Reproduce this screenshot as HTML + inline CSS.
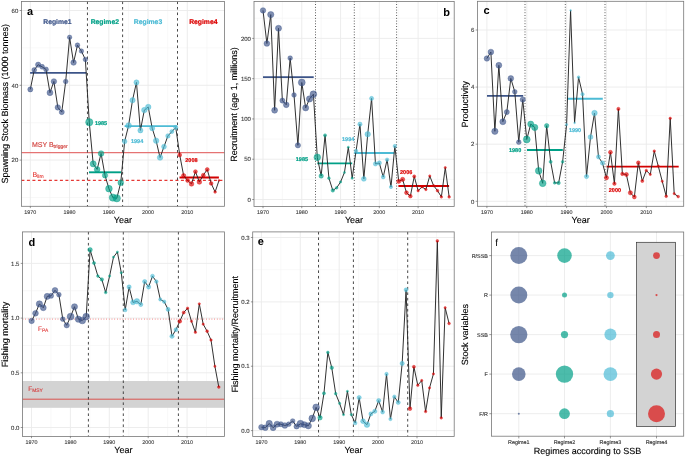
<!DOCTYPE html>
<html><head><meta charset="utf-8"><style>
html,body{margin:0;padding:0;background:#fff;}
svg{display:block;font-family:"Liberation Sans", sans-serif;will-change:transform;text-rendering:geometricPrecision;}
</style></head><body>
<svg width="685" height="457" viewBox="0 0 685 457">
<rect width="685" height="457" fill="#fff"/>
<line x1="49.96" y1="1.5" x2="49.96" y2="206.3" stroke="#f4f4f4" stroke-width="0.6"/>
<line x1="89.20" y1="1.5" x2="89.20" y2="206.3" stroke="#f4f4f4" stroke-width="0.6"/>
<line x1="128.44" y1="1.5" x2="128.44" y2="206.3" stroke="#f4f4f4" stroke-width="0.6"/>
<line x1="167.68" y1="1.5" x2="167.68" y2="206.3" stroke="#f4f4f4" stroke-width="0.6"/>
<line x1="206.92" y1="1.5" x2="206.92" y2="206.3" stroke="#f4f4f4" stroke-width="0.6"/>
<line x1="21.4" y1="197.50" x2="224.6" y2="197.50" stroke="#f4f4f4" stroke-width="0.6"/>
<line x1="21.4" y1="122.70" x2="224.6" y2="122.70" stroke="#f4f4f4" stroke-width="0.6"/>
<line x1="21.4" y1="47.90" x2="224.6" y2="47.90" stroke="#f4f4f4" stroke-width="0.6"/>
<line x1="30.34" y1="1.5" x2="30.34" y2="206.3" stroke="#ebebeb" stroke-width="0.9"/>
<line x1="69.58" y1="1.5" x2="69.58" y2="206.3" stroke="#ebebeb" stroke-width="0.9"/>
<line x1="108.82" y1="1.5" x2="108.82" y2="206.3" stroke="#ebebeb" stroke-width="0.9"/>
<line x1="148.06" y1="1.5" x2="148.06" y2="206.3" stroke="#ebebeb" stroke-width="0.9"/>
<line x1="187.30" y1="1.5" x2="187.30" y2="206.3" stroke="#ebebeb" stroke-width="0.9"/>
<line x1="21.4" y1="160.10" x2="224.6" y2="160.10" stroke="#ebebeb" stroke-width="0.9"/>
<line x1="21.4" y1="85.30" x2="224.6" y2="85.30" stroke="#ebebeb" stroke-width="0.9"/>
<line x1="21.4" y1="10.50" x2="224.6" y2="10.50" stroke="#ebebeb" stroke-width="0.9"/>
<line x1="21.4" y1="152.60" x2="224.6" y2="152.60" stroke="#E57373" stroke-width="1.45"/>
<line x1="21.4" y1="180.30" x2="224.6" y2="180.30" stroke="#E53935" stroke-width="1.25" stroke-dasharray="3,2.5"/>
<line x1="87.45" y1="1.5" x2="87.45" y2="206.3" stroke="#2b2b2b" stroke-width="0.85" stroke-dasharray="2.6,2.9"/>
<line x1="122.60" y1="1.5" x2="122.60" y2="206.3" stroke="#2b2b2b" stroke-width="0.85" stroke-dasharray="2.6,2.9"/>
<line x1="177.50" y1="1.5" x2="177.50" y2="206.3" stroke="#2b2b2b" stroke-width="0.85" stroke-dasharray="2.6,2.9"/>
<line x1="30.1" y1="72.90" x2="86.5" y2="72.90" stroke="#3C5488" stroke-width="1.9"/>
<line x1="89.0" y1="172.30" x2="121.0" y2="172.30" stroke="#00A087" stroke-width="1.9"/>
<line x1="124.6" y1="126.10" x2="177.0" y2="126.10" stroke="#4DBBD5" stroke-width="1.9"/>
<line x1="179.5" y1="177.50" x2="218.9" y2="177.50" stroke="#D20000" stroke-width="1.9"/>
<path d="M30.30,89.40 L34.23,70.00 L38.16,64.70 L42.10,66.80 L46.03,69.40 L49.96,92.70 L53.89,81.40 L57.82,107.40 L61.76,112.10 L65.69,81.50 L69.62,37.30 L73.55,62.60 L77.48,45.20 L81.42,51.10 L85.35,59.50 L89.28,122.20 L93.21,163.90 L97.14,169.40 L101.08,153.50 L105.01,175.40 L108.94,188.70 L112.87,197.60 L116.80,198.30 L120.74,182.70 L124.67,141.40 L128.60,125.50 L132.53,100.20 L136.46,82.40 L140.40,130.40 L144.33,110.10 L148.26,107.00 L152.19,128.20 L156.12,140.70 L160.06,157.60 L163.99,146.70 L167.92,135.90 L171.85,131.60 L175.78,127.50 L179.72,155.00 L183.65,175.60 L187.58,180.50 L191.51,183.90 L195.44,171.60 L199.38,182.00 L203.31,175.20 L207.24,169.50 L211.17,183.40 L215.10,192.00 L219.04,180.40" fill="none" stroke="#262626" stroke-width="0.95" stroke-linejoin="round"/>
<circle cx="30.30" cy="89.40" r="2.55" fill="#3C5488" fill-opacity="0.66" stroke="#3C5488" stroke-opacity="0.66" stroke-width="0.55"/>
<circle cx="34.23" cy="70.00" r="2.45" fill="#3C5488" fill-opacity="0.66" stroke="#3C5488" stroke-opacity="0.66" stroke-width="0.55"/>
<circle cx="38.16" cy="64.70" r="2.65" fill="#3C5488" fill-opacity="0.66" stroke="#3C5488" stroke-opacity="0.66" stroke-width="0.55"/>
<circle cx="42.10" cy="66.80" r="2.45" fill="#3C5488" fill-opacity="0.66" stroke="#3C5488" stroke-opacity="0.66" stroke-width="0.55"/>
<circle cx="46.03" cy="69.40" r="2.45" fill="#3C5488" fill-opacity="0.66" stroke="#3C5488" stroke-opacity="0.66" stroke-width="0.55"/>
<circle cx="49.96" cy="92.70" r="2.95" fill="#3C5488" fill-opacity="0.66" stroke="#3C5488" stroke-opacity="0.66" stroke-width="0.55"/>
<circle cx="53.89" cy="81.40" r="2.75" fill="#3C5488" fill-opacity="0.66" stroke="#3C5488" stroke-opacity="0.66" stroke-width="0.55"/>
<circle cx="57.82" cy="107.40" r="2.75" fill="#3C5488" fill-opacity="0.66" stroke="#3C5488" stroke-opacity="0.66" stroke-width="0.55"/>
<circle cx="61.76" cy="112.10" r="2.55" fill="#3C5488" fill-opacity="0.66" stroke="#3C5488" stroke-opacity="0.66" stroke-width="0.55"/>
<circle cx="65.69" cy="81.50" r="2.35" fill="#3C5488" fill-opacity="0.66" stroke="#3C5488" stroke-opacity="0.66" stroke-width="0.55"/>
<circle cx="69.62" cy="37.30" r="2.25" fill="#3C5488" fill-opacity="0.66" stroke="#3C5488" stroke-opacity="0.66" stroke-width="0.55"/>
<circle cx="73.55" cy="62.60" r="2.75" fill="#3C5488" fill-opacity="0.66" stroke="#3C5488" stroke-opacity="0.66" stroke-width="0.55"/>
<circle cx="77.48" cy="45.20" r="2.35" fill="#3C5488" fill-opacity="0.66" stroke="#3C5488" stroke-opacity="0.66" stroke-width="0.55"/>
<circle cx="81.42" cy="51.10" r="2.25" fill="#3C5488" fill-opacity="0.66" stroke="#3C5488" stroke-opacity="0.66" stroke-width="0.55"/>
<circle cx="85.35" cy="59.50" r="2.25" fill="#3C5488" fill-opacity="0.66" stroke="#3C5488" stroke-opacity="0.66" stroke-width="0.55"/>
<circle cx="89.28" cy="122.20" r="3.65" fill="#00A087" fill-opacity="0.66" stroke="#00A087" stroke-opacity="0.66" stroke-width="0.55"/>
<circle cx="93.21" cy="163.90" r="3.05" fill="#00A087" fill-opacity="0.66" stroke="#00A087" stroke-opacity="0.66" stroke-width="0.55"/>
<circle cx="97.14" cy="169.40" r="2.85" fill="#00A087" fill-opacity="0.66" stroke="#00A087" stroke-opacity="0.66" stroke-width="0.55"/>
<circle cx="101.08" cy="153.50" r="2.85" fill="#00A087" fill-opacity="0.66" stroke="#00A087" stroke-opacity="0.66" stroke-width="0.55"/>
<circle cx="105.01" cy="175.40" r="2.65" fill="#00A087" fill-opacity="0.66" stroke="#00A087" stroke-opacity="0.66" stroke-width="0.55"/>
<circle cx="108.94" cy="188.70" r="3.35" fill="#00A087" fill-opacity="0.66" stroke="#00A087" stroke-opacity="0.66" stroke-width="0.55"/>
<circle cx="112.87" cy="197.60" r="3.65" fill="#00A087" fill-opacity="0.66" stroke="#00A087" stroke-opacity="0.66" stroke-width="0.55"/>
<circle cx="116.80" cy="198.30" r="3.65" fill="#00A087" fill-opacity="0.66" stroke="#00A087" stroke-opacity="0.66" stroke-width="0.55"/>
<circle cx="120.74" cy="182.70" r="2.85" fill="#00A087" fill-opacity="0.66" stroke="#00A087" stroke-opacity="0.66" stroke-width="0.55"/>
<circle cx="124.67" cy="141.40" r="2.35" fill="#4DBBD5" fill-opacity="0.66" stroke="#4DBBD5" stroke-opacity="0.66" stroke-width="0.55"/>
<circle cx="128.60" cy="125.50" r="2.85" fill="#4DBBD5" fill-opacity="0.66" stroke="#4DBBD5" stroke-opacity="0.66" stroke-width="0.55"/>
<circle cx="132.53" cy="100.20" r="2.65" fill="#4DBBD5" fill-opacity="0.66" stroke="#4DBBD5" stroke-opacity="0.66" stroke-width="0.55"/>
<circle cx="136.46" cy="82.40" r="2.55" fill="#4DBBD5" fill-opacity="0.66" stroke="#4DBBD5" stroke-opacity="0.66" stroke-width="0.55"/>
<circle cx="140.40" cy="130.40" r="2.55" fill="#4DBBD5" fill-opacity="0.66" stroke="#4DBBD5" stroke-opacity="0.66" stroke-width="0.55"/>
<circle cx="144.33" cy="110.10" r="2.75" fill="#4DBBD5" fill-opacity="0.66" stroke="#4DBBD5" stroke-opacity="0.66" stroke-width="0.55"/>
<circle cx="148.26" cy="107.00" r="2.75" fill="#4DBBD5" fill-opacity="0.66" stroke="#4DBBD5" stroke-opacity="0.66" stroke-width="0.55"/>
<circle cx="152.19" cy="128.20" r="2.55" fill="#4DBBD5" fill-opacity="0.66" stroke="#4DBBD5" stroke-opacity="0.66" stroke-width="0.55"/>
<circle cx="156.12" cy="140.70" r="2.75" fill="#4DBBD5" fill-opacity="0.66" stroke="#4DBBD5" stroke-opacity="0.66" stroke-width="0.55"/>
<circle cx="160.06" cy="157.60" r="2.75" fill="#4DBBD5" fill-opacity="0.66" stroke="#4DBBD5" stroke-opacity="0.66" stroke-width="0.55"/>
<circle cx="163.99" cy="146.70" r="2.45" fill="#4DBBD5" fill-opacity="0.66" stroke="#4DBBD5" stroke-opacity="0.66" stroke-width="0.55"/>
<circle cx="167.92" cy="135.90" r="2.25" fill="#4DBBD5" fill-opacity="0.66" stroke="#4DBBD5" stroke-opacity="0.66" stroke-width="0.55"/>
<circle cx="171.85" cy="131.60" r="2.05" fill="#4DBBD5" fill-opacity="0.66" stroke="#4DBBD5" stroke-opacity="0.66" stroke-width="0.55"/>
<circle cx="175.78" cy="127.50" r="2.15" fill="#4DBBD5" fill-opacity="0.66" stroke="#4DBBD5" stroke-opacity="0.66" stroke-width="0.55"/>
<circle cx="179.72" cy="155.00" r="1.95" fill="#DC0000" fill-opacity="0.66" stroke="#DC0000" stroke-opacity="0.66" stroke-width="0.55"/>
<circle cx="183.65" cy="175.60" r="2.15" fill="#DC0000" fill-opacity="0.66" stroke="#DC0000" stroke-opacity="0.66" stroke-width="0.55"/>
<circle cx="187.58" cy="180.50" r="1.95" fill="#DC0000" fill-opacity="0.66" stroke="#DC0000" stroke-opacity="0.66" stroke-width="0.55"/>
<circle cx="191.51" cy="183.90" r="2.35" fill="#DC0000" fill-opacity="0.66" stroke="#DC0000" stroke-opacity="0.66" stroke-width="0.55"/>
<circle cx="195.44" cy="171.60" r="1.95" fill="#DC0000" fill-opacity="0.66" stroke="#DC0000" stroke-opacity="0.66" stroke-width="0.55"/>
<circle cx="199.38" cy="182.00" r="2.35" fill="#DC0000" fill-opacity="0.66" stroke="#DC0000" stroke-opacity="0.66" stroke-width="0.55"/>
<circle cx="203.31" cy="175.20" r="1.95" fill="#DC0000" fill-opacity="0.66" stroke="#DC0000" stroke-opacity="0.66" stroke-width="0.55"/>
<circle cx="207.24" cy="169.50" r="1.95" fill="#DC0000" fill-opacity="0.66" stroke="#DC0000" stroke-opacity="0.66" stroke-width="0.55"/>
<circle cx="211.17" cy="183.40" r="1.85" fill="#DC0000" fill-opacity="0.66" stroke="#DC0000" stroke-opacity="0.66" stroke-width="0.55"/>
<circle cx="215.10" cy="192.00" r="1.35" fill="#DC0000" fill-opacity="0.66" stroke="#DC0000" stroke-opacity="0.66" stroke-width="0.55"/>
<circle cx="219.04" cy="180.40" r="0.85" fill="#DC0000" fill-opacity="0.66" stroke="#DC0000" stroke-opacity="0.66" stroke-width="0.55"/>
<rect x="21.4" y="1.5" width="203.2" height="204.8" fill="none" stroke="#777" stroke-width="0.8"/>
<line x1="30.34" y1="206.3" x2="30.34" y2="208.10000000000002" stroke="#555" stroke-width="0.6"/>
<text x="30.34" y="213.70" font-size="5.4" fill="#404040" text-anchor="middle" font-weight="normal" stroke="#404040" stroke-width="0.12" >1970</text>
<line x1="69.58" y1="206.3" x2="69.58" y2="208.10000000000002" stroke="#555" stroke-width="0.6"/>
<text x="69.58" y="213.70" font-size="5.4" fill="#404040" text-anchor="middle" font-weight="normal" stroke="#404040" stroke-width="0.12" >1980</text>
<line x1="108.82" y1="206.3" x2="108.82" y2="208.10000000000002" stroke="#555" stroke-width="0.6"/>
<text x="108.82" y="213.70" font-size="5.4" fill="#404040" text-anchor="middle" font-weight="normal" stroke="#404040" stroke-width="0.12" >1990</text>
<line x1="148.06" y1="206.3" x2="148.06" y2="208.10000000000002" stroke="#555" stroke-width="0.6"/>
<text x="148.06" y="213.70" font-size="5.4" fill="#404040" text-anchor="middle" font-weight="normal" stroke="#404040" stroke-width="0.12" >2000</text>
<line x1="187.30" y1="206.3" x2="187.30" y2="208.10000000000002" stroke="#555" stroke-width="0.6"/>
<text x="187.30" y="213.70" font-size="5.4" fill="#404040" text-anchor="middle" font-weight="normal" stroke="#404040" stroke-width="0.12" >2010</text>
<line x1="19.599999999999998" y1="160.10" x2="21.4" y2="160.10" stroke="#555" stroke-width="0.6"/>
<text x="18.30" y="162.35" font-size="6.0" fill="#404040" text-anchor="end" font-weight="normal" stroke="#404040" stroke-width="0.12" >20</text>
<line x1="19.599999999999998" y1="85.30" x2="21.4" y2="85.30" stroke="#555" stroke-width="0.6"/>
<text x="18.30" y="87.55" font-size="6.0" fill="#404040" text-anchor="end" font-weight="normal" stroke="#404040" stroke-width="0.12" >40</text>
<line x1="19.599999999999998" y1="10.50" x2="21.4" y2="10.50" stroke="#555" stroke-width="0.6"/>
<text x="18.30" y="12.75" font-size="6.0" fill="#404040" text-anchor="end" font-weight="normal" stroke="#404040" stroke-width="0.12" >60</text>
<text x="122.80" y="222.80" font-size="9.0" fill="#000" text-anchor="middle" font-weight="normal" stroke="#000" stroke-width="0.12" >Year</text>
<text x="8.2" y="103.8" font-size="9.0" fill="#000" stroke="#000" stroke-width="0.12" text-anchor="middle" transform="rotate(-90 8.2 103.8)">Spawning Stock Biomass (1000 tonnes)</text>
<text x="27.00" y="14.90" font-size="11" fill="#000" text-anchor="start" font-weight="bold" >a</text>
<text x="57.40" y="24.20" font-size="6.8" fill="#3C5488" text-anchor="middle" font-weight="bold" stroke="#3C5488" stroke-width="0.2" >Regime1</text>
<text x="104.80" y="24.20" font-size="6.8" fill="#00A087" text-anchor="middle" font-weight="bold" stroke="#00A087" stroke-width="0.2" >Regime2</text>
<text x="148.00" y="24.20" font-size="6.8" fill="#4DBBD5" text-anchor="middle" font-weight="bold" stroke="#4DBBD5" stroke-width="0.2" >Regime3</text>
<text x="203.30" y="24.20" font-size="6.8" fill="#DC0000" text-anchor="middle" font-weight="bold" stroke="#DC0000" stroke-width="0.2" >Regime4</text>
<text x="101.00" y="124.50" font-size="5.5" fill="#00A087" text-anchor="middle" font-weight="bold" stroke="#00A087" stroke-width="0.2" >1985</text>
<text x="137.10" y="143.40" font-size="5.5" fill="#4DBBD5" text-anchor="middle" font-weight="bold" stroke="#4DBBD5" stroke-width="0.2" >1994</text>
<text x="191.40" y="162.20" font-size="5.5" fill="#DC0000" text-anchor="middle" font-weight="bold" stroke="#DC0000" stroke-width="0.2" >2008</text>
<text x="31.9" y="146.9" font-size="7" fill="#D44A46" stroke="#D44A46" stroke-width="0.18">MSY B<tspan font-size="5" dy="1.3">trigger</tspan></text>
<text x="32.5" y="177" font-size="7" fill="#E53935" stroke="#E53935" stroke-width="0.12">B<tspan font-size="5" dy="1.3">lim</tspan></text>
<line x1="282.39" y1="1.4" x2="282.39" y2="206.4" stroke="#f4f4f4" stroke-width="0.6"/>
<line x1="321.17" y1="1.4" x2="321.17" y2="206.4" stroke="#f4f4f4" stroke-width="0.6"/>
<line x1="359.95" y1="1.4" x2="359.95" y2="206.4" stroke="#f4f4f4" stroke-width="0.6"/>
<line x1="398.73" y1="1.4" x2="398.73" y2="206.4" stroke="#f4f4f4" stroke-width="0.6"/>
<line x1="437.51" y1="1.4" x2="437.51" y2="206.4" stroke="#f4f4f4" stroke-width="0.6"/>
<line x1="254.0" y1="179.36" x2="454.2" y2="179.36" stroke="#f4f4f4" stroke-width="0.6"/>
<line x1="254.0" y1="139.09" x2="454.2" y2="139.09" stroke="#f4f4f4" stroke-width="0.6"/>
<line x1="254.0" y1="98.81" x2="454.2" y2="98.81" stroke="#f4f4f4" stroke-width="0.6"/>
<line x1="254.0" y1="58.54" x2="454.2" y2="58.54" stroke="#f4f4f4" stroke-width="0.6"/>
<line x1="254.0" y1="18.26" x2="454.2" y2="18.26" stroke="#f4f4f4" stroke-width="0.6"/>
<line x1="263.00" y1="1.4" x2="263.00" y2="206.4" stroke="#ebebeb" stroke-width="0.9"/>
<line x1="301.78" y1="1.4" x2="301.78" y2="206.4" stroke="#ebebeb" stroke-width="0.9"/>
<line x1="340.56" y1="1.4" x2="340.56" y2="206.4" stroke="#ebebeb" stroke-width="0.9"/>
<line x1="379.34" y1="1.4" x2="379.34" y2="206.4" stroke="#ebebeb" stroke-width="0.9"/>
<line x1="418.12" y1="1.4" x2="418.12" y2="206.4" stroke="#ebebeb" stroke-width="0.9"/>
<line x1="254.0" y1="199.50" x2="454.2" y2="199.50" stroke="#ebebeb" stroke-width="0.9"/>
<line x1="254.0" y1="159.22" x2="454.2" y2="159.22" stroke="#ebebeb" stroke-width="0.9"/>
<line x1="254.0" y1="118.95" x2="454.2" y2="118.95" stroke="#ebebeb" stroke-width="0.9"/>
<line x1="254.0" y1="78.67" x2="454.2" y2="78.67" stroke="#ebebeb" stroke-width="0.9"/>
<line x1="254.0" y1="38.40" x2="454.2" y2="38.40" stroke="#ebebeb" stroke-width="0.9"/>
<line x1="315.50" y1="1.4" x2="315.50" y2="206.4" stroke="#2b2b2b" stroke-width="0.9" stroke-dasharray="0.85,1.9"/>
<line x1="354.30" y1="1.4" x2="354.30" y2="206.4" stroke="#2b2b2b" stroke-width="0.9" stroke-dasharray="0.85,1.9"/>
<line x1="396.60" y1="1.4" x2="396.60" y2="206.4" stroke="#2b2b2b" stroke-width="0.9" stroke-dasharray="0.85,1.9"/>
<line x1="263.0" y1="77.10" x2="313.7" y2="77.10" stroke="#3C5488" stroke-width="1.9"/>
<line x1="317.3" y1="163.40" x2="352.2" y2="163.40" stroke="#00A087" stroke-width="1.9"/>
<line x1="354.3" y1="153.00" x2="394.3" y2="153.00" stroke="#4DBBD5" stroke-width="1.9"/>
<line x1="398.4" y1="186.00" x2="449.1" y2="186.00" stroke="#D20000" stroke-width="1.9"/>
<path d="M263.00,10.40 L266.88,43.50 L270.76,14.60 L274.63,110.30 L278.51,28.30 L282.39,100.60 L286.27,104.80 L290.15,58.10 L294.02,95.00 L297.90,145.30 L301.78,82.50 L305.66,107.90 L309.54,98.90 L313.41,94.20 L317.29,157.30 L321.17,176.00 L325.05,135.30 L328.93,178.20 L332.80,190.40 L336.68,187.80 L340.56,182.00 L344.44,172.50 L348.32,147.20 L352.19,178.20 L356.07,151.00 L359.95,124.20 L363.83,178.90 L367.71,134.20 L371.58,98.40 L375.46,163.90 L379.34,163.00 L383.22,177.00 L387.10,159.70 L390.97,187.00 L394.85,146.10 L398.73,181.40 L402.61,179.40 L406.49,192.70 L410.36,196.20 L414.24,176.40 L418.12,190.70 L422.00,186.90 L425.88,189.50 L429.75,176.00 L433.63,185.70 L437.51,190.70 L441.39,196.90 L445.27,167.60 L449.14,196.90" fill="none" stroke="#262626" stroke-width="0.95" stroke-linejoin="round"/>
<circle cx="263.00" cy="10.40" r="2.75" fill="#3C5488" fill-opacity="0.66" stroke="#3C5488" stroke-opacity="0.66" stroke-width="0.55"/>
<circle cx="266.88" cy="43.50" r="2.85" fill="#3C5488" fill-opacity="0.66" stroke="#3C5488" stroke-opacity="0.66" stroke-width="0.55"/>
<circle cx="270.76" cy="14.60" r="3.15" fill="#3C5488" fill-opacity="0.66" stroke="#3C5488" stroke-opacity="0.66" stroke-width="0.55"/>
<circle cx="274.63" cy="110.30" r="2.95" fill="#3C5488" fill-opacity="0.66" stroke="#3C5488" stroke-opacity="0.66" stroke-width="0.55"/>
<circle cx="278.51" cy="28.30" r="3.05" fill="#3C5488" fill-opacity="0.66" stroke="#3C5488" stroke-opacity="0.66" stroke-width="0.55"/>
<circle cx="282.39" cy="100.60" r="2.55" fill="#3C5488" fill-opacity="0.66" stroke="#3C5488" stroke-opacity="0.66" stroke-width="0.55"/>
<circle cx="286.27" cy="104.80" r="2.85" fill="#3C5488" fill-opacity="0.66" stroke="#3C5488" stroke-opacity="0.66" stroke-width="0.55"/>
<circle cx="290.15" cy="58.10" r="2.35" fill="#3C5488" fill-opacity="0.66" stroke="#3C5488" stroke-opacity="0.66" stroke-width="0.55"/>
<circle cx="294.02" cy="95.00" r="2.35" fill="#3C5488" fill-opacity="0.66" stroke="#3C5488" stroke-opacity="0.66" stroke-width="0.55"/>
<circle cx="297.90" cy="145.30" r="2.65" fill="#3C5488" fill-opacity="0.66" stroke="#3C5488" stroke-opacity="0.66" stroke-width="0.55"/>
<circle cx="301.78" cy="82.50" r="3.45" fill="#3C5488" fill-opacity="0.66" stroke="#3C5488" stroke-opacity="0.66" stroke-width="0.55"/>
<circle cx="305.66" cy="107.90" r="3.05" fill="#3C5488" fill-opacity="0.66" stroke="#3C5488" stroke-opacity="0.66" stroke-width="0.55"/>
<circle cx="309.54" cy="98.90" r="3.15" fill="#3C5488" fill-opacity="0.66" stroke="#3C5488" stroke-opacity="0.66" stroke-width="0.55"/>
<circle cx="313.41" cy="94.20" r="3.35" fill="#3C5488" fill-opacity="0.66" stroke="#3C5488" stroke-opacity="0.66" stroke-width="0.55"/>
<circle cx="317.29" cy="157.30" r="3.35" fill="#00A087" fill-opacity="0.66" stroke="#00A087" stroke-opacity="0.66" stroke-width="0.55"/>
<circle cx="321.17" cy="176.00" r="2.25" fill="#00A087" fill-opacity="0.66" stroke="#00A087" stroke-opacity="0.66" stroke-width="0.55"/>
<circle cx="325.05" cy="135.30" r="1.55" fill="#00A087" fill-opacity="0.66" stroke="#00A087" stroke-opacity="0.66" stroke-width="0.55"/>
<circle cx="328.93" cy="178.20" r="1.35" fill="#00A087" fill-opacity="0.66" stroke="#00A087" stroke-opacity="0.66" stroke-width="0.55"/>
<circle cx="332.80" cy="190.40" r="1.75" fill="#00A087" fill-opacity="0.66" stroke="#00A087" stroke-opacity="0.66" stroke-width="0.55"/>
<circle cx="336.68" cy="187.80" r="1.35" fill="#00A087" fill-opacity="0.66" stroke="#00A087" stroke-opacity="0.66" stroke-width="0.55"/>
<circle cx="340.56" cy="182.00" r="1.15" fill="#00A087" fill-opacity="0.66" stroke="#00A087" stroke-opacity="0.66" stroke-width="0.55"/>
<circle cx="344.44" cy="172.50" r="1.05" fill="#00A087" fill-opacity="0.66" stroke="#00A087" stroke-opacity="0.66" stroke-width="0.55"/>
<circle cx="348.32" cy="147.20" r="1.05" fill="#00A087" fill-opacity="0.66" stroke="#00A087" stroke-opacity="0.66" stroke-width="0.55"/>
<circle cx="352.19" cy="178.20" r="1.15" fill="#00A087" fill-opacity="0.66" stroke="#00A087" stroke-opacity="0.66" stroke-width="0.55"/>
<circle cx="356.07" cy="151.00" r="1.85" fill="#4DBBD5" fill-opacity="0.66" stroke="#4DBBD5" stroke-opacity="0.66" stroke-width="0.55"/>
<circle cx="359.95" cy="124.20" r="2.15" fill="#4DBBD5" fill-opacity="0.66" stroke="#4DBBD5" stroke-opacity="0.66" stroke-width="0.55"/>
<circle cx="363.83" cy="178.90" r="2.45" fill="#4DBBD5" fill-opacity="0.66" stroke="#4DBBD5" stroke-opacity="0.66" stroke-width="0.55"/>
<circle cx="367.71" cy="134.20" r="2.75" fill="#4DBBD5" fill-opacity="0.66" stroke="#4DBBD5" stroke-opacity="0.66" stroke-width="0.55"/>
<circle cx="371.58" cy="98.40" r="2.05" fill="#4DBBD5" fill-opacity="0.66" stroke="#4DBBD5" stroke-opacity="0.66" stroke-width="0.55"/>
<circle cx="375.46" cy="163.90" r="2.15" fill="#4DBBD5" fill-opacity="0.66" stroke="#4DBBD5" stroke-opacity="0.66" stroke-width="0.55"/>
<circle cx="379.34" cy="163.00" r="2.15" fill="#4DBBD5" fill-opacity="0.66" stroke="#4DBBD5" stroke-opacity="0.66" stroke-width="0.55"/>
<circle cx="383.22" cy="177.00" r="1.95" fill="#4DBBD5" fill-opacity="0.66" stroke="#4DBBD5" stroke-opacity="0.66" stroke-width="0.55"/>
<circle cx="387.10" cy="159.70" r="1.75" fill="#4DBBD5" fill-opacity="0.66" stroke="#4DBBD5" stroke-opacity="0.66" stroke-width="0.55"/>
<circle cx="390.97" cy="187.00" r="1.65" fill="#4DBBD5" fill-opacity="0.66" stroke="#4DBBD5" stroke-opacity="0.66" stroke-width="0.55"/>
<circle cx="394.85" cy="146.10" r="1.75" fill="#4DBBD5" fill-opacity="0.66" stroke="#4DBBD5" stroke-opacity="0.66" stroke-width="0.55"/>
<circle cx="398.73" cy="181.40" r="2.05" fill="#DC0000" fill-opacity="0.66" stroke="#DC0000" stroke-opacity="0.66" stroke-width="0.55"/>
<circle cx="402.61" cy="179.40" r="2.15" fill="#DC0000" fill-opacity="0.66" stroke="#DC0000" stroke-opacity="0.66" stroke-width="0.55"/>
<circle cx="406.49" cy="192.70" r="1.95" fill="#DC0000" fill-opacity="0.66" stroke="#DC0000" stroke-opacity="0.66" stroke-width="0.55"/>
<circle cx="410.36" cy="196.20" r="1.85" fill="#DC0000" fill-opacity="0.66" stroke="#DC0000" stroke-opacity="0.66" stroke-width="0.55"/>
<circle cx="414.24" cy="176.40" r="1.55" fill="#DC0000" fill-opacity="0.66" stroke="#DC0000" stroke-opacity="0.66" stroke-width="0.55"/>
<circle cx="418.12" cy="190.70" r="1.25" fill="#DC0000" fill-opacity="0.66" stroke="#DC0000" stroke-opacity="0.66" stroke-width="0.55"/>
<circle cx="422.00" cy="186.90" r="1.15" fill="#DC0000" fill-opacity="0.66" stroke="#DC0000" stroke-opacity="0.66" stroke-width="0.55"/>
<circle cx="425.88" cy="189.50" r="1.25" fill="#DC0000" fill-opacity="0.66" stroke="#DC0000" stroke-opacity="0.66" stroke-width="0.55"/>
<circle cx="429.75" cy="176.00" r="1.15" fill="#DC0000" fill-opacity="0.66" stroke="#DC0000" stroke-opacity="0.66" stroke-width="0.55"/>
<circle cx="433.63" cy="185.70" r="1.15" fill="#DC0000" fill-opacity="0.66" stroke="#DC0000" stroke-opacity="0.66" stroke-width="0.55"/>
<circle cx="437.51" cy="190.70" r="1.35" fill="#DC0000" fill-opacity="0.66" stroke="#DC0000" stroke-opacity="0.66" stroke-width="0.55"/>
<circle cx="441.39" cy="196.90" r="1.25" fill="#DC0000" fill-opacity="0.66" stroke="#DC0000" stroke-opacity="0.66" stroke-width="0.55"/>
<circle cx="445.27" cy="167.60" r="1.15" fill="#DC0000" fill-opacity="0.66" stroke="#DC0000" stroke-opacity="0.66" stroke-width="0.55"/>
<circle cx="449.14" cy="196.90" r="1.35" fill="#DC0000" fill-opacity="0.66" stroke="#DC0000" stroke-opacity="0.66" stroke-width="0.55"/>
<rect x="254.0" y="1.4" width="200.2" height="205.0" fill="none" stroke="#777" stroke-width="0.8"/>
<line x1="263.00" y1="206.4" x2="263.00" y2="208.20000000000002" stroke="#555" stroke-width="0.6"/>
<text x="263.00" y="213.70" font-size="5.4" fill="#404040" text-anchor="middle" font-weight="normal" stroke="#404040" stroke-width="0.12" >1970</text>
<line x1="301.78" y1="206.4" x2="301.78" y2="208.20000000000002" stroke="#555" stroke-width="0.6"/>
<text x="301.78" y="213.70" font-size="5.4" fill="#404040" text-anchor="middle" font-weight="normal" stroke="#404040" stroke-width="0.12" >1980</text>
<line x1="340.56" y1="206.4" x2="340.56" y2="208.20000000000002" stroke="#555" stroke-width="0.6"/>
<text x="340.56" y="213.70" font-size="5.4" fill="#404040" text-anchor="middle" font-weight="normal" stroke="#404040" stroke-width="0.12" >1990</text>
<line x1="379.34" y1="206.4" x2="379.34" y2="208.20000000000002" stroke="#555" stroke-width="0.6"/>
<text x="379.34" y="213.70" font-size="5.4" fill="#404040" text-anchor="middle" font-weight="normal" stroke="#404040" stroke-width="0.12" >2000</text>
<line x1="418.12" y1="206.4" x2="418.12" y2="208.20000000000002" stroke="#555" stroke-width="0.6"/>
<text x="418.12" y="213.70" font-size="5.4" fill="#404040" text-anchor="middle" font-weight="normal" stroke="#404040" stroke-width="0.12" >2010</text>
<line x1="252.2" y1="199.50" x2="254.0" y2="199.50" stroke="#555" stroke-width="0.6"/>
<text x="250.90" y="201.75" font-size="6.0" fill="#404040" text-anchor="end" font-weight="normal" stroke="#404040" stroke-width="0.12" >0</text>
<line x1="252.2" y1="159.22" x2="254.0" y2="159.22" stroke="#555" stroke-width="0.6"/>
<text x="250.90" y="161.47" font-size="6.0" fill="#404040" text-anchor="end" font-weight="normal" stroke="#404040" stroke-width="0.12" >50</text>
<line x1="252.2" y1="118.95" x2="254.0" y2="118.95" stroke="#555" stroke-width="0.6"/>
<text x="250.90" y="121.20" font-size="6.0" fill="#404040" text-anchor="end" font-weight="normal" stroke="#404040" stroke-width="0.12" >100</text>
<line x1="252.2" y1="78.67" x2="254.0" y2="78.67" stroke="#555" stroke-width="0.6"/>
<text x="250.90" y="80.92" font-size="6.0" fill="#404040" text-anchor="end" font-weight="normal" stroke="#404040" stroke-width="0.12" >150</text>
<line x1="252.2" y1="38.40" x2="254.0" y2="38.40" stroke="#555" stroke-width="0.6"/>
<text x="250.90" y="40.65" font-size="6.0" fill="#404040" text-anchor="end" font-weight="normal" stroke="#404040" stroke-width="0.12" >200</text>
<text x="354.00" y="222.80" font-size="9.0" fill="#000" text-anchor="middle" font-weight="normal" stroke="#000" stroke-width="0.12" >Year</text>
<text x="237.5" y="104.4" font-size="9.0" fill="#000" stroke="#000" stroke-width="0.12" text-anchor="middle" transform="rotate(-90 237.5 104.4)">Recruitment (age 1, millions)</text>
<text x="450.10" y="15.80" font-size="11" fill="#000" text-anchor="end" font-weight="bold" >b</text>
<text x="301.90" y="161.30" font-size="5.5" fill="#00A087" text-anchor="middle" font-weight="bold" stroke="#00A087" stroke-width="0.2" >1985</text>
<text x="348.20" y="141.00" font-size="5.5" fill="#4DBBD5" text-anchor="middle" font-weight="bold" stroke="#4DBBD5" stroke-width="0.2" >1994</text>
<text x="406.20" y="173.70" font-size="5.5" fill="#DC0000" text-anchor="middle" font-weight="bold" stroke="#DC0000" stroke-width="0.2" >2006</text>
<line x1="506.82" y1="1.3" x2="506.82" y2="206.3" stroke="#f4f4f4" stroke-width="0.6"/>
<line x1="546.67" y1="1.3" x2="546.67" y2="206.3" stroke="#f4f4f4" stroke-width="0.6"/>
<line x1="586.52" y1="1.3" x2="586.52" y2="206.3" stroke="#f4f4f4" stroke-width="0.6"/>
<line x1="626.38" y1="1.3" x2="626.38" y2="206.3" stroke="#f4f4f4" stroke-width="0.6"/>
<line x1="666.22" y1="1.3" x2="666.22" y2="206.3" stroke="#f4f4f4" stroke-width="0.6"/>
<line x1="477.4" y1="172.75" x2="683.7" y2="172.75" stroke="#f4f4f4" stroke-width="0.6"/>
<line x1="477.4" y1="115.65" x2="683.7" y2="115.65" stroke="#f4f4f4" stroke-width="0.6"/>
<line x1="477.4" y1="58.55" x2="683.7" y2="58.55" stroke="#f4f4f4" stroke-width="0.6"/>
<line x1="486.90" y1="1.3" x2="486.90" y2="206.3" stroke="#ebebeb" stroke-width="0.9"/>
<line x1="526.75" y1="1.3" x2="526.75" y2="206.3" stroke="#ebebeb" stroke-width="0.9"/>
<line x1="566.60" y1="1.3" x2="566.60" y2="206.3" stroke="#ebebeb" stroke-width="0.9"/>
<line x1="606.45" y1="1.3" x2="606.45" y2="206.3" stroke="#ebebeb" stroke-width="0.9"/>
<line x1="646.30" y1="1.3" x2="646.30" y2="206.3" stroke="#ebebeb" stroke-width="0.9"/>
<line x1="477.4" y1="201.30" x2="683.7" y2="201.30" stroke="#ebebeb" stroke-width="0.9"/>
<line x1="477.4" y1="144.20" x2="683.7" y2="144.20" stroke="#ebebeb" stroke-width="0.9"/>
<line x1="477.4" y1="87.10" x2="683.7" y2="87.10" stroke="#ebebeb" stroke-width="0.9"/>
<line x1="477.4" y1="30.00" x2="683.7" y2="30.00" stroke="#ebebeb" stroke-width="0.9"/>
<line x1="525.00" y1="1.3" x2="525.00" y2="206.3" stroke="#2b2b2b" stroke-width="0.9" stroke-dasharray="0.85,1.9"/>
<line x1="565.30" y1="1.3" x2="565.30" y2="206.3" stroke="#2b2b2b" stroke-width="0.9" stroke-dasharray="0.85,1.9"/>
<line x1="605.00" y1="1.3" x2="605.00" y2="206.3" stroke="#2b2b2b" stroke-width="0.9" stroke-dasharray="0.85,1.9"/>
<line x1="487.0" y1="95.90" x2="523.2" y2="95.90" stroke="#3C5488" stroke-width="1.9"/>
<line x1="527.0" y1="150.00" x2="562.8" y2="150.00" stroke="#00A087" stroke-width="1.9"/>
<line x1="567.0" y1="98.80" x2="602.8" y2="98.80" stroke="#4DBBD5" stroke-width="1.9"/>
<line x1="606.6" y1="166.60" x2="678.7" y2="166.60" stroke="#D20000" stroke-width="1.9"/>
<path d="M486.90,58.50 L490.88,52.00 L494.87,131.30 L498.85,65.30 L502.84,121.70 L506.82,112.10 L510.81,78.40 L514.79,91.80 L518.78,142.20 L522.76,99.60 L526.75,139.50 L530.74,124.10 L534.72,127.40 L538.70,170.80 L542.69,183.30 L546.67,125.70 L550.66,161.80 L554.64,182.90 L558.63,182.90 L562.62,161.80 L566.60,124.60 L570.59,10.30 L574.57,122.90 L578.55,77.20 L582.54,94.20 L586.52,176.60 L590.51,137.10 L594.50,113.00 L598.48,156.90 L602.46,163.00 L606.45,177.80 L610.43,152.20 L614.42,183.70 L618.40,108.90 L622.39,173.90 L626.38,174.50 L630.36,192.80 L634.35,197.00 L638.33,162.70 L642.31,181.00 L646.30,170.50 L650.28,174.50 L654.27,151.10 L658.25,166.10 L662.24,181.30 L666.22,196.30 L670.21,118.30 L674.19,193.70 L678.18,196.60" fill="none" stroke="#262626" stroke-width="0.95" stroke-linejoin="round"/>
<circle cx="486.90" cy="58.50" r="2.75" fill="#3C5488" fill-opacity="0.66" stroke="#3C5488" stroke-opacity="0.66" stroke-width="0.55"/>
<circle cx="490.88" cy="52.00" r="2.85" fill="#3C5488" fill-opacity="0.66" stroke="#3C5488" stroke-opacity="0.66" stroke-width="0.55"/>
<circle cx="494.87" cy="131.30" r="3.15" fill="#3C5488" fill-opacity="0.66" stroke="#3C5488" stroke-opacity="0.66" stroke-width="0.55"/>
<circle cx="498.85" cy="65.30" r="2.95" fill="#3C5488" fill-opacity="0.66" stroke="#3C5488" stroke-opacity="0.66" stroke-width="0.55"/>
<circle cx="502.84" cy="121.70" r="3.05" fill="#3C5488" fill-opacity="0.66" stroke="#3C5488" stroke-opacity="0.66" stroke-width="0.55"/>
<circle cx="506.82" cy="112.10" r="2.55" fill="#3C5488" fill-opacity="0.66" stroke="#3C5488" stroke-opacity="0.66" stroke-width="0.55"/>
<circle cx="510.81" cy="78.40" r="2.85" fill="#3C5488" fill-opacity="0.66" stroke="#3C5488" stroke-opacity="0.66" stroke-width="0.55"/>
<circle cx="514.79" cy="91.80" r="2.35" fill="#3C5488" fill-opacity="0.66" stroke="#3C5488" stroke-opacity="0.66" stroke-width="0.55"/>
<circle cx="518.78" cy="142.20" r="2.35" fill="#3C5488" fill-opacity="0.66" stroke="#3C5488" stroke-opacity="0.66" stroke-width="0.55"/>
<circle cx="522.76" cy="99.60" r="2.65" fill="#3C5488" fill-opacity="0.66" stroke="#3C5488" stroke-opacity="0.66" stroke-width="0.55"/>
<circle cx="526.75" cy="139.50" r="3.45" fill="#00A087" fill-opacity="0.66" stroke="#00A087" stroke-opacity="0.66" stroke-width="0.55"/>
<circle cx="530.74" cy="124.10" r="3.05" fill="#00A087" fill-opacity="0.66" stroke="#00A087" stroke-opacity="0.66" stroke-width="0.55"/>
<circle cx="534.72" cy="127.40" r="3.15" fill="#00A087" fill-opacity="0.66" stroke="#00A087" stroke-opacity="0.66" stroke-width="0.55"/>
<circle cx="538.70" cy="170.80" r="3.35" fill="#00A087" fill-opacity="0.66" stroke="#00A087" stroke-opacity="0.66" stroke-width="0.55"/>
<circle cx="542.69" cy="183.30" r="3.35" fill="#00A087" fill-opacity="0.66" stroke="#00A087" stroke-opacity="0.66" stroke-width="0.55"/>
<circle cx="546.67" cy="125.70" r="2.25" fill="#00A087" fill-opacity="0.66" stroke="#00A087" stroke-opacity="0.66" stroke-width="0.55"/>
<circle cx="550.66" cy="161.80" r="1.55" fill="#00A087" fill-opacity="0.66" stroke="#00A087" stroke-opacity="0.66" stroke-width="0.55"/>
<circle cx="554.64" cy="182.90" r="1.35" fill="#00A087" fill-opacity="0.66" stroke="#00A087" stroke-opacity="0.66" stroke-width="0.55"/>
<circle cx="558.63" cy="182.90" r="1.75" fill="#00A087" fill-opacity="0.66" stroke="#00A087" stroke-opacity="0.66" stroke-width="0.55"/>
<circle cx="562.62" cy="161.80" r="1.35" fill="#00A087" fill-opacity="0.66" stroke="#00A087" stroke-opacity="0.66" stroke-width="0.55"/>
<circle cx="566.60" cy="124.60" r="1.15" fill="#4DBBD5" fill-opacity="0.66" stroke="#4DBBD5" stroke-opacity="0.66" stroke-width="0.55"/>
<circle cx="570.59" cy="10.30" r="0.85" fill="#4DBBD5" fill-opacity="0.66" stroke="#4DBBD5" stroke-opacity="0.66" stroke-width="0.55"/>
<circle cx="574.57" cy="122.90" r="0.85" fill="#4DBBD5" fill-opacity="0.66" stroke="#4DBBD5" stroke-opacity="0.66" stroke-width="0.55"/>
<circle cx="578.55" cy="77.20" r="1.35" fill="#4DBBD5" fill-opacity="0.66" stroke="#4DBBD5" stroke-opacity="0.66" stroke-width="0.55"/>
<circle cx="582.54" cy="94.20" r="1.65" fill="#4DBBD5" fill-opacity="0.66" stroke="#4DBBD5" stroke-opacity="0.66" stroke-width="0.55"/>
<circle cx="586.52" cy="176.60" r="2.15" fill="#4DBBD5" fill-opacity="0.66" stroke="#4DBBD5" stroke-opacity="0.66" stroke-width="0.55"/>
<circle cx="590.51" cy="137.10" r="2.45" fill="#4DBBD5" fill-opacity="0.66" stroke="#4DBBD5" stroke-opacity="0.66" stroke-width="0.55"/>
<circle cx="594.50" cy="113.00" r="2.75" fill="#4DBBD5" fill-opacity="0.66" stroke="#4DBBD5" stroke-opacity="0.66" stroke-width="0.55"/>
<circle cx="598.48" cy="156.90" r="2.05" fill="#4DBBD5" fill-opacity="0.66" stroke="#4DBBD5" stroke-opacity="0.66" stroke-width="0.55"/>
<circle cx="602.46" cy="163.00" r="2.15" fill="#4DBBD5" fill-opacity="0.66" stroke="#4DBBD5" stroke-opacity="0.66" stroke-width="0.55"/>
<circle cx="606.45" cy="177.80" r="2.15" fill="#DC0000" fill-opacity="0.66" stroke="#DC0000" stroke-opacity="0.66" stroke-width="0.55"/>
<circle cx="610.43" cy="152.20" r="1.95" fill="#DC0000" fill-opacity="0.66" stroke="#DC0000" stroke-opacity="0.66" stroke-width="0.55"/>
<circle cx="614.42" cy="183.70" r="1.75" fill="#DC0000" fill-opacity="0.66" stroke="#DC0000" stroke-opacity="0.66" stroke-width="0.55"/>
<circle cx="618.40" cy="108.90" r="1.65" fill="#DC0000" fill-opacity="0.66" stroke="#DC0000" stroke-opacity="0.66" stroke-width="0.55"/>
<circle cx="622.39" cy="173.90" r="1.75" fill="#DC0000" fill-opacity="0.66" stroke="#DC0000" stroke-opacity="0.66" stroke-width="0.55"/>
<circle cx="626.38" cy="174.50" r="2.05" fill="#DC0000" fill-opacity="0.66" stroke="#DC0000" stroke-opacity="0.66" stroke-width="0.55"/>
<circle cx="630.36" cy="192.80" r="2.15" fill="#DC0000" fill-opacity="0.66" stroke="#DC0000" stroke-opacity="0.66" stroke-width="0.55"/>
<circle cx="634.35" cy="197.00" r="1.95" fill="#DC0000" fill-opacity="0.66" stroke="#DC0000" stroke-opacity="0.66" stroke-width="0.55"/>
<circle cx="638.33" cy="162.70" r="1.85" fill="#DC0000" fill-opacity="0.66" stroke="#DC0000" stroke-opacity="0.66" stroke-width="0.55"/>
<circle cx="642.31" cy="181.00" r="1.55" fill="#DC0000" fill-opacity="0.66" stroke="#DC0000" stroke-opacity="0.66" stroke-width="0.55"/>
<circle cx="646.30" cy="170.50" r="1.25" fill="#DC0000" fill-opacity="0.66" stroke="#DC0000" stroke-opacity="0.66" stroke-width="0.55"/>
<circle cx="650.28" cy="174.50" r="1.15" fill="#DC0000" fill-opacity="0.66" stroke="#DC0000" stroke-opacity="0.66" stroke-width="0.55"/>
<circle cx="654.27" cy="151.10" r="1.25" fill="#DC0000" fill-opacity="0.66" stroke="#DC0000" stroke-opacity="0.66" stroke-width="0.55"/>
<circle cx="658.25" cy="166.10" r="1.15" fill="#DC0000" fill-opacity="0.66" stroke="#DC0000" stroke-opacity="0.66" stroke-width="0.55"/>
<circle cx="662.24" cy="181.30" r="1.15" fill="#DC0000" fill-opacity="0.66" stroke="#DC0000" stroke-opacity="0.66" stroke-width="0.55"/>
<circle cx="666.22" cy="196.30" r="1.35" fill="#DC0000" fill-opacity="0.66" stroke="#DC0000" stroke-opacity="0.66" stroke-width="0.55"/>
<circle cx="670.21" cy="118.30" r="1.25" fill="#DC0000" fill-opacity="0.66" stroke="#DC0000" stroke-opacity="0.66" stroke-width="0.55"/>
<circle cx="674.19" cy="193.70" r="1.15" fill="#DC0000" fill-opacity="0.66" stroke="#DC0000" stroke-opacity="0.66" stroke-width="0.55"/>
<circle cx="678.18" cy="196.60" r="1.35" fill="#DC0000" fill-opacity="0.66" stroke="#DC0000" stroke-opacity="0.66" stroke-width="0.55"/>
<rect x="477.4" y="1.3" width="206.30000000000007" height="205.0" fill="none" stroke="#777" stroke-width="0.8"/>
<line x1="486.90" y1="206.3" x2="486.90" y2="208.10000000000002" stroke="#555" stroke-width="0.6"/>
<text x="486.90" y="213.90" font-size="5.4" fill="#404040" text-anchor="middle" font-weight="normal" stroke="#404040" stroke-width="0.12" >1970</text>
<line x1="526.75" y1="206.3" x2="526.75" y2="208.10000000000002" stroke="#555" stroke-width="0.6"/>
<text x="526.75" y="213.90" font-size="5.4" fill="#404040" text-anchor="middle" font-weight="normal" stroke="#404040" stroke-width="0.12" >1980</text>
<line x1="566.60" y1="206.3" x2="566.60" y2="208.10000000000002" stroke="#555" stroke-width="0.6"/>
<text x="566.60" y="213.90" font-size="5.4" fill="#404040" text-anchor="middle" font-weight="normal" stroke="#404040" stroke-width="0.12" >1990</text>
<line x1="606.45" y1="206.3" x2="606.45" y2="208.10000000000002" stroke="#555" stroke-width="0.6"/>
<text x="606.45" y="213.90" font-size="5.4" fill="#404040" text-anchor="middle" font-weight="normal" stroke="#404040" stroke-width="0.12" >2000</text>
<line x1="646.30" y1="206.3" x2="646.30" y2="208.10000000000002" stroke="#555" stroke-width="0.6"/>
<text x="646.30" y="213.90" font-size="5.4" fill="#404040" text-anchor="middle" font-weight="normal" stroke="#404040" stroke-width="0.12" >2010</text>
<line x1="475.59999999999997" y1="201.30" x2="477.4" y2="201.30" stroke="#555" stroke-width="0.6"/>
<text x="474.30" y="203.55" font-size="6.0" fill="#404040" text-anchor="end" font-weight="normal" stroke="#404040" stroke-width="0.12" >0</text>
<line x1="475.59999999999997" y1="144.20" x2="477.4" y2="144.20" stroke="#555" stroke-width="0.6"/>
<text x="474.30" y="146.45" font-size="6.0" fill="#404040" text-anchor="end" font-weight="normal" stroke="#404040" stroke-width="0.12" >2</text>
<line x1="475.59999999999997" y1="87.10" x2="477.4" y2="87.10" stroke="#555" stroke-width="0.6"/>
<text x="474.30" y="89.35" font-size="6.0" fill="#404040" text-anchor="end" font-weight="normal" stroke="#404040" stroke-width="0.12" >4</text>
<line x1="475.59999999999997" y1="30.00" x2="477.4" y2="30.00" stroke="#555" stroke-width="0.6"/>
<text x="474.30" y="32.25" font-size="6.0" fill="#404040" text-anchor="end" font-weight="normal" stroke="#404040" stroke-width="0.12" >6</text>
<text x="580.70" y="222.80" font-size="9.0" fill="#000" text-anchor="middle" font-weight="normal" stroke="#000" stroke-width="0.12" >Year</text>
<text x="467.6" y="104.3" font-size="9.0" fill="#000" stroke="#000" stroke-width="0.12" text-anchor="middle" transform="rotate(-90 467.6 104.3)">Productivity</text>
<text x="483.60" y="14.30" font-size="11" fill="#000" text-anchor="start" font-weight="bold" >c</text>
<text x="515.10" y="151.80" font-size="5.5" fill="#00A087" text-anchor="middle" font-weight="bold" stroke="#00A087" stroke-width="0.2" >1980</text>
<text x="575.00" y="132.00" font-size="5.5" fill="#4DBBD5" text-anchor="middle" font-weight="bold" stroke="#4DBBD5" stroke-width="0.2" >1990</text>
<text x="614.90" y="191.70" font-size="5.5" fill="#DC0000" text-anchor="middle" font-weight="bold" stroke="#DC0000" stroke-width="0.2" >2000</text>
<line x1="50.95" y1="231.9" x2="50.95" y2="436.4" stroke="#f4f4f4" stroke-width="0.6"/>
<line x1="89.85" y1="231.9" x2="89.85" y2="436.4" stroke="#f4f4f4" stroke-width="0.6"/>
<line x1="128.75" y1="231.9" x2="128.75" y2="436.4" stroke="#f4f4f4" stroke-width="0.6"/>
<line x1="167.65" y1="231.9" x2="167.65" y2="436.4" stroke="#f4f4f4" stroke-width="0.6"/>
<line x1="206.55" y1="231.9" x2="206.55" y2="436.4" stroke="#f4f4f4" stroke-width="0.6"/>
<line x1="22.5" y1="400.15" x2="224.4" y2="400.15" stroke="#f4f4f4" stroke-width="0.6"/>
<line x1="22.5" y1="345.45" x2="224.4" y2="345.45" stroke="#f4f4f4" stroke-width="0.6"/>
<line x1="22.5" y1="290.75" x2="224.4" y2="290.75" stroke="#f4f4f4" stroke-width="0.6"/>
<line x1="31.50" y1="231.9" x2="31.50" y2="436.4" stroke="#ebebeb" stroke-width="0.9"/>
<line x1="70.40" y1="231.9" x2="70.40" y2="436.4" stroke="#ebebeb" stroke-width="0.9"/>
<line x1="109.30" y1="231.9" x2="109.30" y2="436.4" stroke="#ebebeb" stroke-width="0.9"/>
<line x1="148.20" y1="231.9" x2="148.20" y2="436.4" stroke="#ebebeb" stroke-width="0.9"/>
<line x1="187.10" y1="231.9" x2="187.10" y2="436.4" stroke="#ebebeb" stroke-width="0.9"/>
<line x1="22.5" y1="427.50" x2="224.4" y2="427.50" stroke="#ebebeb" stroke-width="0.9"/>
<line x1="22.5" y1="372.80" x2="224.4" y2="372.80" stroke="#ebebeb" stroke-width="0.9"/>
<line x1="22.5" y1="318.10" x2="224.4" y2="318.10" stroke="#ebebeb" stroke-width="0.9"/>
<line x1="22.5" y1="263.40" x2="224.4" y2="263.40" stroke="#ebebeb" stroke-width="0.9"/>
<rect x="22.5" y="381.0" width="201.9" height="26.8" fill="#d3d3d3"/>
<line x1="22.5" y1="399.20" x2="224.4" y2="399.20" stroke="#D9534F" stroke-width="1.0"/>
<line x1="22.5" y1="319.10" x2="224.4" y2="319.10" stroke="#EE6060" stroke-width="0.9" stroke-dasharray="0.8,1.9"/>
<line x1="88.40" y1="231.9" x2="88.40" y2="436.4" stroke="#2b2b2b" stroke-width="0.85" stroke-dasharray="2.6,2.9"/>
<line x1="123.30" y1="231.9" x2="123.30" y2="436.4" stroke="#2b2b2b" stroke-width="0.85" stroke-dasharray="2.6,2.9"/>
<line x1="178.40" y1="231.9" x2="178.40" y2="436.4" stroke="#2b2b2b" stroke-width="0.85" stroke-dasharray="2.6,2.9"/>
<path d="M31.60,320.90 L35.50,313.30 L39.40,303.90 L43.30,307.80 L47.20,296.40 L51.10,295.80 L55.00,290.30 L58.90,294.70 L62.80,319.20 L66.70,325.30 L70.60,316.60 L74.50,306.70 L78.40,319.20 L82.30,320.50 L86.20,316.60 L90.10,249.80 L94.00,263.00 L97.90,276.10 L101.80,279.40 L105.70,292.50 L109.60,276.10 L113.50,257.10 L117.40,252.00 L121.30,272.80 L125.20,310.00 L129.10,287.00 L133.00,302.40 L136.90,301.30 L140.80,304.60 L144.70,281.60 L148.60,287.00 L152.50,276.10 L156.40,281.60 L160.30,299.50 L164.20,301.70 L168.10,309.40 L172.00,336.30 L175.90,329.70 L179.80,321.30 L183.70,312.50 L187.60,308.20 L191.50,321.30 L195.40,332.30 L199.30,303.80 L203.20,324.20 L207.10,331.20 L211.00,340.00 L214.90,366.30 L218.80,387.10" fill="none" stroke="#262626" stroke-width="0.95" stroke-linejoin="round"/>
<circle cx="31.60" cy="320.90" r="2.75" fill="#3C5488" fill-opacity="0.66" stroke="#3C5488" stroke-opacity="0.66" stroke-width="0.55"/>
<circle cx="35.50" cy="313.30" r="2.85" fill="#3C5488" fill-opacity="0.66" stroke="#3C5488" stroke-opacity="0.66" stroke-width="0.55"/>
<circle cx="39.40" cy="303.90" r="3.15" fill="#3C5488" fill-opacity="0.66" stroke="#3C5488" stroke-opacity="0.66" stroke-width="0.55"/>
<circle cx="43.30" cy="307.80" r="2.95" fill="#3C5488" fill-opacity="0.66" stroke="#3C5488" stroke-opacity="0.66" stroke-width="0.55"/>
<circle cx="47.20" cy="296.40" r="3.05" fill="#3C5488" fill-opacity="0.66" stroke="#3C5488" stroke-opacity="0.66" stroke-width="0.55"/>
<circle cx="51.10" cy="295.80" r="2.55" fill="#3C5488" fill-opacity="0.66" stroke="#3C5488" stroke-opacity="0.66" stroke-width="0.55"/>
<circle cx="55.00" cy="290.30" r="2.85" fill="#3C5488" fill-opacity="0.66" stroke="#3C5488" stroke-opacity="0.66" stroke-width="0.55"/>
<circle cx="58.90" cy="294.70" r="2.35" fill="#3C5488" fill-opacity="0.66" stroke="#3C5488" stroke-opacity="0.66" stroke-width="0.55"/>
<circle cx="62.80" cy="319.20" r="2.35" fill="#3C5488" fill-opacity="0.66" stroke="#3C5488" stroke-opacity="0.66" stroke-width="0.55"/>
<circle cx="66.70" cy="325.30" r="2.65" fill="#3C5488" fill-opacity="0.66" stroke="#3C5488" stroke-opacity="0.66" stroke-width="0.55"/>
<circle cx="70.60" cy="316.60" r="3.45" fill="#3C5488" fill-opacity="0.66" stroke="#3C5488" stroke-opacity="0.66" stroke-width="0.55"/>
<circle cx="74.50" cy="306.70" r="3.05" fill="#3C5488" fill-opacity="0.66" stroke="#3C5488" stroke-opacity="0.66" stroke-width="0.55"/>
<circle cx="78.40" cy="319.20" r="3.15" fill="#3C5488" fill-opacity="0.66" stroke="#3C5488" stroke-opacity="0.66" stroke-width="0.55"/>
<circle cx="82.30" cy="320.50" r="3.35" fill="#3C5488" fill-opacity="0.66" stroke="#3C5488" stroke-opacity="0.66" stroke-width="0.55"/>
<circle cx="86.20" cy="316.60" r="3.35" fill="#3C5488" fill-opacity="0.66" stroke="#3C5488" stroke-opacity="0.66" stroke-width="0.55"/>
<circle cx="90.10" cy="249.80" r="2.25" fill="#00A087" fill-opacity="0.66" stroke="#00A087" stroke-opacity="0.66" stroke-width="0.55"/>
<circle cx="94.00" cy="263.00" r="1.55" fill="#00A087" fill-opacity="0.66" stroke="#00A087" stroke-opacity="0.66" stroke-width="0.55"/>
<circle cx="97.90" cy="276.10" r="1.35" fill="#00A087" fill-opacity="0.66" stroke="#00A087" stroke-opacity="0.66" stroke-width="0.55"/>
<circle cx="101.80" cy="279.40" r="1.75" fill="#00A087" fill-opacity="0.66" stroke="#00A087" stroke-opacity="0.66" stroke-width="0.55"/>
<circle cx="105.70" cy="292.50" r="1.35" fill="#00A087" fill-opacity="0.66" stroke="#00A087" stroke-opacity="0.66" stroke-width="0.55"/>
<circle cx="109.60" cy="276.10" r="1.15" fill="#00A087" fill-opacity="0.66" stroke="#00A087" stroke-opacity="0.66" stroke-width="0.55"/>
<circle cx="113.50" cy="257.10" r="1.05" fill="#00A087" fill-opacity="0.66" stroke="#00A087" stroke-opacity="0.66" stroke-width="0.55"/>
<circle cx="117.40" cy="252.00" r="1.05" fill="#00A087" fill-opacity="0.66" stroke="#00A087" stroke-opacity="0.66" stroke-width="0.55"/>
<circle cx="121.30" cy="272.80" r="1.15" fill="#00A087" fill-opacity="0.66" stroke="#00A087" stroke-opacity="0.66" stroke-width="0.55"/>
<circle cx="125.20" cy="310.00" r="1.85" fill="#4DBBD5" fill-opacity="0.66" stroke="#4DBBD5" stroke-opacity="0.66" stroke-width="0.55"/>
<circle cx="129.10" cy="287.00" r="2.15" fill="#4DBBD5" fill-opacity="0.66" stroke="#4DBBD5" stroke-opacity="0.66" stroke-width="0.55"/>
<circle cx="133.00" cy="302.40" r="2.45" fill="#4DBBD5" fill-opacity="0.66" stroke="#4DBBD5" stroke-opacity="0.66" stroke-width="0.55"/>
<circle cx="136.90" cy="301.30" r="2.75" fill="#4DBBD5" fill-opacity="0.66" stroke="#4DBBD5" stroke-opacity="0.66" stroke-width="0.55"/>
<circle cx="140.80" cy="304.60" r="2.05" fill="#4DBBD5" fill-opacity="0.66" stroke="#4DBBD5" stroke-opacity="0.66" stroke-width="0.55"/>
<circle cx="144.70" cy="281.60" r="2.15" fill="#4DBBD5" fill-opacity="0.66" stroke="#4DBBD5" stroke-opacity="0.66" stroke-width="0.55"/>
<circle cx="148.60" cy="287.00" r="2.15" fill="#4DBBD5" fill-opacity="0.66" stroke="#4DBBD5" stroke-opacity="0.66" stroke-width="0.55"/>
<circle cx="152.50" cy="276.10" r="1.95" fill="#4DBBD5" fill-opacity="0.66" stroke="#4DBBD5" stroke-opacity="0.66" stroke-width="0.55"/>
<circle cx="156.40" cy="281.60" r="1.75" fill="#4DBBD5" fill-opacity="0.66" stroke="#4DBBD5" stroke-opacity="0.66" stroke-width="0.55"/>
<circle cx="160.30" cy="299.50" r="1.65" fill="#4DBBD5" fill-opacity="0.66" stroke="#4DBBD5" stroke-opacity="0.66" stroke-width="0.55"/>
<circle cx="164.20" cy="301.70" r="1.75" fill="#4DBBD5" fill-opacity="0.66" stroke="#4DBBD5" stroke-opacity="0.66" stroke-width="0.55"/>
<circle cx="168.10" cy="309.40" r="2.05" fill="#4DBBD5" fill-opacity="0.66" stroke="#4DBBD5" stroke-opacity="0.66" stroke-width="0.55"/>
<circle cx="172.00" cy="336.30" r="2.15" fill="#4DBBD5" fill-opacity="0.66" stroke="#4DBBD5" stroke-opacity="0.66" stroke-width="0.55"/>
<circle cx="175.90" cy="329.70" r="1.95" fill="#4DBBD5" fill-opacity="0.66" stroke="#4DBBD5" stroke-opacity="0.66" stroke-width="0.55"/>
<circle cx="179.80" cy="321.30" r="1.85" fill="#DC0000" fill-opacity="0.66" stroke="#DC0000" stroke-opacity="0.66" stroke-width="0.55"/>
<circle cx="183.70" cy="312.50" r="1.55" fill="#DC0000" fill-opacity="0.66" stroke="#DC0000" stroke-opacity="0.66" stroke-width="0.55"/>
<circle cx="187.60" cy="308.20" r="1.25" fill="#DC0000" fill-opacity="0.66" stroke="#DC0000" stroke-opacity="0.66" stroke-width="0.55"/>
<circle cx="191.50" cy="321.30" r="1.15" fill="#DC0000" fill-opacity="0.66" stroke="#DC0000" stroke-opacity="0.66" stroke-width="0.55"/>
<circle cx="195.40" cy="332.30" r="1.25" fill="#DC0000" fill-opacity="0.66" stroke="#DC0000" stroke-opacity="0.66" stroke-width="0.55"/>
<circle cx="199.30" cy="303.80" r="1.15" fill="#DC0000" fill-opacity="0.66" stroke="#DC0000" stroke-opacity="0.66" stroke-width="0.55"/>
<circle cx="203.20" cy="324.20" r="1.15" fill="#DC0000" fill-opacity="0.66" stroke="#DC0000" stroke-opacity="0.66" stroke-width="0.55"/>
<circle cx="207.10" cy="331.20" r="1.35" fill="#DC0000" fill-opacity="0.66" stroke="#DC0000" stroke-opacity="0.66" stroke-width="0.55"/>
<circle cx="211.00" cy="340.00" r="1.25" fill="#DC0000" fill-opacity="0.66" stroke="#DC0000" stroke-opacity="0.66" stroke-width="0.55"/>
<circle cx="214.90" cy="366.30" r="1.15" fill="#DC0000" fill-opacity="0.66" stroke="#DC0000" stroke-opacity="0.66" stroke-width="0.55"/>
<circle cx="218.80" cy="387.10" r="1.35" fill="#DC0000" fill-opacity="0.66" stroke="#DC0000" stroke-opacity="0.66" stroke-width="0.55"/>
<rect x="22.5" y="231.9" width="201.9" height="204.49999999999997" fill="none" stroke="#777" stroke-width="0.8"/>
<line x1="31.50" y1="436.4" x2="31.50" y2="438.2" stroke="#555" stroke-width="0.6"/>
<text x="31.50" y="444.20" font-size="5.4" fill="#404040" text-anchor="middle" font-weight="normal" stroke="#404040" stroke-width="0.12" >1970</text>
<line x1="70.40" y1="436.4" x2="70.40" y2="438.2" stroke="#555" stroke-width="0.6"/>
<text x="70.40" y="444.20" font-size="5.4" fill="#404040" text-anchor="middle" font-weight="normal" stroke="#404040" stroke-width="0.12" >1980</text>
<line x1="109.30" y1="436.4" x2="109.30" y2="438.2" stroke="#555" stroke-width="0.6"/>
<text x="109.30" y="444.20" font-size="5.4" fill="#404040" text-anchor="middle" font-weight="normal" stroke="#404040" stroke-width="0.12" >1990</text>
<line x1="148.20" y1="436.4" x2="148.20" y2="438.2" stroke="#555" stroke-width="0.6"/>
<text x="148.20" y="444.20" font-size="5.4" fill="#404040" text-anchor="middle" font-weight="normal" stroke="#404040" stroke-width="0.12" >2000</text>
<line x1="187.10" y1="436.4" x2="187.10" y2="438.2" stroke="#555" stroke-width="0.6"/>
<text x="187.10" y="444.20" font-size="5.4" fill="#404040" text-anchor="middle" font-weight="normal" stroke="#404040" stroke-width="0.12" >2010</text>
<line x1="20.7" y1="427.50" x2="22.5" y2="427.50" stroke="#555" stroke-width="0.6"/>
<text x="19.40" y="429.75" font-size="6.0" fill="#404040" text-anchor="end" font-weight="normal" stroke="#404040" stroke-width="0.12" >0.0</text>
<line x1="20.7" y1="372.80" x2="22.5" y2="372.80" stroke="#555" stroke-width="0.6"/>
<text x="19.40" y="375.05" font-size="6.0" fill="#404040" text-anchor="end" font-weight="normal" stroke="#404040" stroke-width="0.12" >0.5</text>
<line x1="20.7" y1="318.10" x2="22.5" y2="318.10" stroke="#555" stroke-width="0.6"/>
<text x="19.40" y="320.35" font-size="6.0" fill="#404040" text-anchor="end" font-weight="normal" stroke="#404040" stroke-width="0.12" >1.0</text>
<line x1="20.7" y1="263.40" x2="22.5" y2="263.40" stroke="#555" stroke-width="0.6"/>
<text x="19.40" y="265.65" font-size="6.0" fill="#404040" text-anchor="end" font-weight="normal" stroke="#404040" stroke-width="0.12" >1.5</text>
<text x="123.40" y="453.30" font-size="9.0" fill="#000" text-anchor="middle" font-weight="normal" stroke="#000" stroke-width="0.12" >Year</text>
<text x="8.4" y="334.5" font-size="9.0" fill="#000" stroke="#000" stroke-width="0.12" text-anchor="middle" transform="rotate(-90 8.4 334.5)">Fishing mortality</text>
<text x="28.60" y="245.50" font-size="11" fill="#000" text-anchor="start" font-weight="bold" >d</text>
<text x="38.1" y="330.8" font-size="6.5" fill="#E24040" stroke="#E24040" stroke-width="0.12">F<tspan font-size="4.9" dy="1.4">PA</tspan></text>
<text x="28.2" y="390.8" font-size="6.5" fill="#D63838" stroke="#D63838" stroke-width="0.12">F<tspan font-size="4.9" dy="1.6">MSY</tspan></text>
<line x1="280.85" y1="231.9" x2="280.85" y2="436.5" stroke="#f4f4f4" stroke-width="0.6"/>
<line x1="319.75" y1="231.9" x2="319.75" y2="436.5" stroke="#f4f4f4" stroke-width="0.6"/>
<line x1="358.65" y1="231.9" x2="358.65" y2="436.5" stroke="#f4f4f4" stroke-width="0.6"/>
<line x1="397.55" y1="231.9" x2="397.55" y2="436.5" stroke="#f4f4f4" stroke-width="0.6"/>
<line x1="436.45" y1="231.9" x2="436.45" y2="436.5" stroke="#f4f4f4" stroke-width="0.6"/>
<line x1="252.7" y1="398.42" x2="454.2" y2="398.42" stroke="#f4f4f4" stroke-width="0.6"/>
<line x1="252.7" y1="334.05" x2="454.2" y2="334.05" stroke="#f4f4f4" stroke-width="0.6"/>
<line x1="252.7" y1="269.68" x2="454.2" y2="269.68" stroke="#f4f4f4" stroke-width="0.6"/>
<line x1="261.40" y1="231.9" x2="261.40" y2="436.5" stroke="#ebebeb" stroke-width="0.9"/>
<line x1="300.30" y1="231.9" x2="300.30" y2="436.5" stroke="#ebebeb" stroke-width="0.9"/>
<line x1="339.20" y1="231.9" x2="339.20" y2="436.5" stroke="#ebebeb" stroke-width="0.9"/>
<line x1="378.10" y1="231.9" x2="378.10" y2="436.5" stroke="#ebebeb" stroke-width="0.9"/>
<line x1="417.00" y1="231.9" x2="417.00" y2="436.5" stroke="#ebebeb" stroke-width="0.9"/>
<line x1="252.7" y1="430.60" x2="454.2" y2="430.60" stroke="#ebebeb" stroke-width="0.9"/>
<line x1="252.7" y1="366.23" x2="454.2" y2="366.23" stroke="#ebebeb" stroke-width="0.9"/>
<line x1="252.7" y1="301.86" x2="454.2" y2="301.86" stroke="#ebebeb" stroke-width="0.9"/>
<line x1="252.7" y1="237.49" x2="454.2" y2="237.49" stroke="#ebebeb" stroke-width="0.9"/>
<line x1="318.50" y1="231.9" x2="318.50" y2="436.5" stroke="#2b2b2b" stroke-width="0.85" stroke-dasharray="2.6,2.9"/>
<line x1="353.40" y1="231.9" x2="353.40" y2="436.5" stroke="#2b2b2b" stroke-width="0.85" stroke-dasharray="2.6,2.9"/>
<line x1="407.70" y1="231.9" x2="407.70" y2="436.5" stroke="#2b2b2b" stroke-width="0.85" stroke-dasharray="2.6,2.9"/>
<path d="M261.40,427.20 L265.31,427.70 L269.22,423.50 L273.13,427.70 L277.04,424.20 L280.95,424.20 L284.86,425.50 L288.77,424.20 L292.68,421.00 L296.59,426.40 L300.50,423.80 L304.41,424.70 L308.32,425.80 L312.23,418.40 L316.14,407.30 L320.05,417.80 L323.96,393.30 L327.87,352.40 L331.78,367.80 L335.69,393.70 L339.60,403.40 L343.51,414.70 L347.42,391.30 L351.33,414.70 L355.24,423.00 L359.15,397.60 L363.06,421.20 L366.97,424.70 L370.88,413.90 L374.79,411.30 L378.70,400.60 L382.61,412.10 L386.52,374.00 L390.43,419.10 L394.34,396.70 L398.25,402.50 L402.16,363.50 L406.07,289.80 L409.98,408.70 L413.89,366.80 L417.80,385.30 L421.71,380.50 L425.62,411.60 L429.53,387.90 L433.44,373.90 L437.35,240.90 L441.26,417.90 L445.17,307.70 L449.08,323.50" fill="none" stroke="#262626" stroke-width="0.95" stroke-linejoin="round"/>
<circle cx="261.40" cy="427.20" r="2.75" fill="#3C5488" fill-opacity="0.66" stroke="#3C5488" stroke-opacity="0.66" stroke-width="0.55"/>
<circle cx="265.31" cy="427.70" r="2.85" fill="#3C5488" fill-opacity="0.66" stroke="#3C5488" stroke-opacity="0.66" stroke-width="0.55"/>
<circle cx="269.22" cy="423.50" r="3.15" fill="#3C5488" fill-opacity="0.66" stroke="#3C5488" stroke-opacity="0.66" stroke-width="0.55"/>
<circle cx="273.13" cy="427.70" r="2.95" fill="#3C5488" fill-opacity="0.66" stroke="#3C5488" stroke-opacity="0.66" stroke-width="0.55"/>
<circle cx="277.04" cy="424.20" r="3.05" fill="#3C5488" fill-opacity="0.66" stroke="#3C5488" stroke-opacity="0.66" stroke-width="0.55"/>
<circle cx="280.95" cy="424.20" r="2.55" fill="#3C5488" fill-opacity="0.66" stroke="#3C5488" stroke-opacity="0.66" stroke-width="0.55"/>
<circle cx="284.86" cy="425.50" r="2.85" fill="#3C5488" fill-opacity="0.66" stroke="#3C5488" stroke-opacity="0.66" stroke-width="0.55"/>
<circle cx="288.77" cy="424.20" r="2.35" fill="#3C5488" fill-opacity="0.66" stroke="#3C5488" stroke-opacity="0.66" stroke-width="0.55"/>
<circle cx="292.68" cy="421.00" r="2.35" fill="#3C5488" fill-opacity="0.66" stroke="#3C5488" stroke-opacity="0.66" stroke-width="0.55"/>
<circle cx="296.59" cy="426.40" r="2.65" fill="#3C5488" fill-opacity="0.66" stroke="#3C5488" stroke-opacity="0.66" stroke-width="0.55"/>
<circle cx="300.50" cy="423.80" r="3.45" fill="#3C5488" fill-opacity="0.66" stroke="#3C5488" stroke-opacity="0.66" stroke-width="0.55"/>
<circle cx="304.41" cy="424.70" r="3.05" fill="#3C5488" fill-opacity="0.66" stroke="#3C5488" stroke-opacity="0.66" stroke-width="0.55"/>
<circle cx="308.32" cy="425.80" r="3.15" fill="#3C5488" fill-opacity="0.66" stroke="#3C5488" stroke-opacity="0.66" stroke-width="0.55"/>
<circle cx="312.23" cy="418.40" r="3.35" fill="#3C5488" fill-opacity="0.66" stroke="#3C5488" stroke-opacity="0.66" stroke-width="0.55"/>
<circle cx="316.14" cy="407.30" r="3.35" fill="#3C5488" fill-opacity="0.66" stroke="#3C5488" stroke-opacity="0.66" stroke-width="0.55"/>
<circle cx="320.05" cy="417.80" r="2.25" fill="#00A087" fill-opacity="0.66" stroke="#00A087" stroke-opacity="0.66" stroke-width="0.55"/>
<circle cx="323.96" cy="393.30" r="1.55" fill="#00A087" fill-opacity="0.66" stroke="#00A087" stroke-opacity="0.66" stroke-width="0.55"/>
<circle cx="327.87" cy="352.40" r="1.35" fill="#00A087" fill-opacity="0.66" stroke="#00A087" stroke-opacity="0.66" stroke-width="0.55"/>
<circle cx="331.78" cy="367.80" r="1.75" fill="#00A087" fill-opacity="0.66" stroke="#00A087" stroke-opacity="0.66" stroke-width="0.55"/>
<circle cx="335.69" cy="393.70" r="1.35" fill="#00A087" fill-opacity="0.66" stroke="#00A087" stroke-opacity="0.66" stroke-width="0.55"/>
<circle cx="339.60" cy="403.40" r="1.15" fill="#00A087" fill-opacity="0.66" stroke="#00A087" stroke-opacity="0.66" stroke-width="0.55"/>
<circle cx="343.51" cy="414.70" r="1.05" fill="#00A087" fill-opacity="0.66" stroke="#00A087" stroke-opacity="0.66" stroke-width="0.55"/>
<circle cx="347.42" cy="391.30" r="1.05" fill="#00A087" fill-opacity="0.66" stroke="#00A087" stroke-opacity="0.66" stroke-width="0.55"/>
<circle cx="351.33" cy="414.70" r="1.15" fill="#00A087" fill-opacity="0.66" stroke="#00A087" stroke-opacity="0.66" stroke-width="0.55"/>
<circle cx="355.24" cy="423.00" r="1.85" fill="#4DBBD5" fill-opacity="0.66" stroke="#4DBBD5" stroke-opacity="0.66" stroke-width="0.55"/>
<circle cx="359.15" cy="397.60" r="2.15" fill="#4DBBD5" fill-opacity="0.66" stroke="#4DBBD5" stroke-opacity="0.66" stroke-width="0.55"/>
<circle cx="363.06" cy="421.20" r="2.45" fill="#4DBBD5" fill-opacity="0.66" stroke="#4DBBD5" stroke-opacity="0.66" stroke-width="0.55"/>
<circle cx="366.97" cy="424.70" r="2.75" fill="#4DBBD5" fill-opacity="0.66" stroke="#4DBBD5" stroke-opacity="0.66" stroke-width="0.55"/>
<circle cx="370.88" cy="413.90" r="2.05" fill="#4DBBD5" fill-opacity="0.66" stroke="#4DBBD5" stroke-opacity="0.66" stroke-width="0.55"/>
<circle cx="374.79" cy="411.30" r="2.15" fill="#4DBBD5" fill-opacity="0.66" stroke="#4DBBD5" stroke-opacity="0.66" stroke-width="0.55"/>
<circle cx="378.70" cy="400.60" r="2.15" fill="#4DBBD5" fill-opacity="0.66" stroke="#4DBBD5" stroke-opacity="0.66" stroke-width="0.55"/>
<circle cx="382.61" cy="412.10" r="1.95" fill="#4DBBD5" fill-opacity="0.66" stroke="#4DBBD5" stroke-opacity="0.66" stroke-width="0.55"/>
<circle cx="386.52" cy="374.00" r="1.75" fill="#4DBBD5" fill-opacity="0.66" stroke="#4DBBD5" stroke-opacity="0.66" stroke-width="0.55"/>
<circle cx="390.43" cy="419.10" r="1.65" fill="#4DBBD5" fill-opacity="0.66" stroke="#4DBBD5" stroke-opacity="0.66" stroke-width="0.55"/>
<circle cx="394.34" cy="396.70" r="1.75" fill="#4DBBD5" fill-opacity="0.66" stroke="#4DBBD5" stroke-opacity="0.66" stroke-width="0.55"/>
<circle cx="398.25" cy="402.50" r="2.05" fill="#4DBBD5" fill-opacity="0.66" stroke="#4DBBD5" stroke-opacity="0.66" stroke-width="0.55"/>
<circle cx="402.16" cy="363.50" r="2.15" fill="#4DBBD5" fill-opacity="0.66" stroke="#4DBBD5" stroke-opacity="0.66" stroke-width="0.55"/>
<circle cx="406.07" cy="289.80" r="1.95" fill="#4DBBD5" fill-opacity="0.66" stroke="#4DBBD5" stroke-opacity="0.66" stroke-width="0.55"/>
<circle cx="409.98" cy="408.70" r="1.85" fill="#DC0000" fill-opacity="0.66" stroke="#DC0000" stroke-opacity="0.66" stroke-width="0.55"/>
<circle cx="413.89" cy="366.80" r="1.55" fill="#DC0000" fill-opacity="0.66" stroke="#DC0000" stroke-opacity="0.66" stroke-width="0.55"/>
<circle cx="417.80" cy="385.30" r="1.25" fill="#DC0000" fill-opacity="0.66" stroke="#DC0000" stroke-opacity="0.66" stroke-width="0.55"/>
<circle cx="421.71" cy="380.50" r="1.15" fill="#DC0000" fill-opacity="0.66" stroke="#DC0000" stroke-opacity="0.66" stroke-width="0.55"/>
<circle cx="425.62" cy="411.60" r="1.25" fill="#DC0000" fill-opacity="0.66" stroke="#DC0000" stroke-opacity="0.66" stroke-width="0.55"/>
<circle cx="429.53" cy="387.90" r="1.15" fill="#DC0000" fill-opacity="0.66" stroke="#DC0000" stroke-opacity="0.66" stroke-width="0.55"/>
<circle cx="433.44" cy="373.90" r="1.15" fill="#DC0000" fill-opacity="0.66" stroke="#DC0000" stroke-opacity="0.66" stroke-width="0.55"/>
<circle cx="437.35" cy="240.90" r="1.35" fill="#DC0000" fill-opacity="0.66" stroke="#DC0000" stroke-opacity="0.66" stroke-width="0.55"/>
<circle cx="441.26" cy="417.90" r="1.25" fill="#DC0000" fill-opacity="0.66" stroke="#DC0000" stroke-opacity="0.66" stroke-width="0.55"/>
<circle cx="445.17" cy="307.70" r="1.15" fill="#DC0000" fill-opacity="0.66" stroke="#DC0000" stroke-opacity="0.66" stroke-width="0.55"/>
<circle cx="449.08" cy="323.50" r="1.35" fill="#DC0000" fill-opacity="0.66" stroke="#DC0000" stroke-opacity="0.66" stroke-width="0.55"/>
<rect x="252.7" y="231.9" width="201.5" height="204.6" fill="none" stroke="#777" stroke-width="0.8"/>
<line x1="261.40" y1="436.5" x2="261.40" y2="438.3" stroke="#555" stroke-width="0.6"/>
<text x="261.40" y="444.20" font-size="5.4" fill="#404040" text-anchor="middle" font-weight="normal" stroke="#404040" stroke-width="0.12" >1970</text>
<line x1="300.30" y1="436.5" x2="300.30" y2="438.3" stroke="#555" stroke-width="0.6"/>
<text x="300.30" y="444.20" font-size="5.4" fill="#404040" text-anchor="middle" font-weight="normal" stroke="#404040" stroke-width="0.12" >1980</text>
<line x1="339.20" y1="436.5" x2="339.20" y2="438.3" stroke="#555" stroke-width="0.6"/>
<text x="339.20" y="444.20" font-size="5.4" fill="#404040" text-anchor="middle" font-weight="normal" stroke="#404040" stroke-width="0.12" >1990</text>
<line x1="378.10" y1="436.5" x2="378.10" y2="438.3" stroke="#555" stroke-width="0.6"/>
<text x="378.10" y="444.20" font-size="5.4" fill="#404040" text-anchor="middle" font-weight="normal" stroke="#404040" stroke-width="0.12" >2000</text>
<line x1="417.00" y1="436.5" x2="417.00" y2="438.3" stroke="#555" stroke-width="0.6"/>
<text x="417.00" y="444.20" font-size="5.4" fill="#404040" text-anchor="middle" font-weight="normal" stroke="#404040" stroke-width="0.12" >2010</text>
<line x1="250.89999999999998" y1="430.60" x2="252.7" y2="430.60" stroke="#555" stroke-width="0.6"/>
<text x="249.60" y="432.85" font-size="6.0" fill="#404040" text-anchor="end" font-weight="normal" stroke="#404040" stroke-width="0.12" >0.0</text>
<line x1="250.89999999999998" y1="366.23" x2="252.7" y2="366.23" stroke="#555" stroke-width="0.6"/>
<text x="249.60" y="368.48" font-size="6.0" fill="#404040" text-anchor="end" font-weight="normal" stroke="#404040" stroke-width="0.12" >0.1</text>
<line x1="250.89999999999998" y1="301.86" x2="252.7" y2="301.86" stroke="#555" stroke-width="0.6"/>
<text x="249.60" y="304.11" font-size="6.0" fill="#404040" text-anchor="end" font-weight="normal" stroke="#404040" stroke-width="0.12" >0.2</text>
<line x1="250.89999999999998" y1="237.49" x2="252.7" y2="237.49" stroke="#555" stroke-width="0.6"/>
<text x="249.60" y="239.74" font-size="6.0" fill="#404040" text-anchor="end" font-weight="normal" stroke="#404040" stroke-width="0.12" >0.3</text>
<text x="353.50" y="453.30" font-size="9.0" fill="#000" text-anchor="middle" font-weight="normal" stroke="#000" stroke-width="0.12" >Year</text>
<text x="237.8" y="334.3" font-size="9.0" fill="#000" stroke="#000" stroke-width="0.12" text-anchor="middle" transform="rotate(-90 237.8 334.3)">Fishing mortality/Recruitment</text>
<text x="257.80" y="245.00" font-size="11" fill="#000" text-anchor="start" font-weight="bold" >e</text>
<line x1="518.80" y1="232.0" x2="518.80" y2="436.2" stroke="#ebebeb" stroke-width="0.9"/>
<line x1="564.50" y1="232.0" x2="564.50" y2="436.2" stroke="#ebebeb" stroke-width="0.9"/>
<line x1="610.40" y1="232.0" x2="610.40" y2="436.2" stroke="#ebebeb" stroke-width="0.9"/>
<line x1="656.50" y1="232.0" x2="656.50" y2="436.2" stroke="#ebebeb" stroke-width="0.9"/>
<line x1="491.5" y1="255.60" x2="683.7" y2="255.60" stroke="#ebebeb" stroke-width="0.9"/>
<line x1="491.5" y1="295.10" x2="683.7" y2="295.10" stroke="#ebebeb" stroke-width="0.9"/>
<line x1="491.5" y1="334.60" x2="683.7" y2="334.60" stroke="#ebebeb" stroke-width="0.9"/>
<line x1="491.5" y1="374.10" x2="683.7" y2="374.10" stroke="#ebebeb" stroke-width="0.9"/>
<line x1="491.5" y1="413.70" x2="683.7" y2="413.70" stroke="#ebebeb" stroke-width="0.9"/>
<rect x="636.6" y="242.3" width="39.0" height="184.2" fill="#d3d3d3" stroke="#333" stroke-width="0.7"/>
<circle cx="518.8" cy="255.6" r="8.5" fill="#3C5488" fill-opacity="0.7"/>
<circle cx="564.5" cy="255.6" r="7.3" fill="#00A087" fill-opacity="0.7"/>
<circle cx="610.4" cy="255.6" r="4.4" fill="#4DBBD5" fill-opacity="0.7"/>
<circle cx="656.5" cy="255.6" r="3.4" fill="#DC0000" fill-opacity="0.64"/>
<circle cx="518.8" cy="295.1" r="8.5" fill="#3C5488" fill-opacity="0.7"/>
<circle cx="564.5" cy="295.1" r="2.5" fill="#00A087" fill-opacity="0.7"/>
<circle cx="610.4" cy="295.1" r="3.2" fill="#4DBBD5" fill-opacity="0.7"/>
<circle cx="656.5" cy="295.1" r="1.1" fill="#DC0000" fill-opacity="0.64"/>
<circle cx="518.8" cy="334.6" r="8.6" fill="#3C5488" fill-opacity="0.7"/>
<circle cx="564.5" cy="334.6" r="3.6" fill="#00A087" fill-opacity="0.7"/>
<circle cx="610.4" cy="334.6" r="6.0" fill="#4DBBD5" fill-opacity="0.7"/>
<circle cx="656.5" cy="334.6" r="3.5" fill="#DC0000" fill-opacity="0.64"/>
<circle cx="518.8" cy="374.1" r="6.8" fill="#3C5488" fill-opacity="0.7"/>
<circle cx="564.5" cy="374.1" r="8.7" fill="#00A087" fill-opacity="0.7"/>
<circle cx="610.4" cy="374.1" r="6.9" fill="#4DBBD5" fill-opacity="0.7"/>
<circle cx="656.5" cy="374.1" r="5.6" fill="#DC0000" fill-opacity="0.64"/>
<circle cx="518.8" cy="413.7" r="1.0" fill="#3C5488" fill-opacity="0.7"/>
<circle cx="564.5" cy="413.7" r="5.4" fill="#00A087" fill-opacity="0.7"/>
<circle cx="610.4" cy="413.7" r="3.6" fill="#4DBBD5" fill-opacity="0.7"/>
<circle cx="656.5" cy="413.7" r="8.5" fill="#DC0000" fill-opacity="0.64"/>
<rect x="491.5" y="232.0" width="192.20000000000005" height="204.2" fill="none" stroke="#777" stroke-width="0.8"/>
<line x1="518.8" y1="436.2" x2="518.8" y2="438.4" stroke="#555" stroke-width="0.6"/>
<text x="518.80" y="444.20" font-size="5.4" fill="#333" text-anchor="middle" font-weight="normal" stroke="#333" stroke-width="0.14" >Regime1</text>
<line x1="564.5" y1="436.2" x2="564.5" y2="438.4" stroke="#555" stroke-width="0.6"/>
<text x="564.50" y="444.20" font-size="5.4" fill="#333" text-anchor="middle" font-weight="normal" stroke="#333" stroke-width="0.14" >Regime2</text>
<line x1="610.4" y1="436.2" x2="610.4" y2="438.4" stroke="#555" stroke-width="0.6"/>
<text x="610.40" y="444.20" font-size="5.4" fill="#333" text-anchor="middle" font-weight="normal" stroke="#333" stroke-width="0.14" >Regime3</text>
<line x1="656.5" y1="436.2" x2="656.5" y2="438.4" stroke="#555" stroke-width="0.6"/>
<text x="656.50" y="444.20" font-size="5.4" fill="#333" text-anchor="middle" font-weight="normal" stroke="#333" stroke-width="0.14" >Regime4</text>
<line x1="489.3" y1="255.6" x2="491.5" y2="255.6" stroke="#555" stroke-width="0.6"/>
<text x="487.90" y="257.50" font-size="5.4" fill="#333" text-anchor="end" font-weight="normal" stroke="#333" stroke-width="0.14" >R/SSB</text>
<line x1="489.3" y1="295.1" x2="491.5" y2="295.1" stroke="#555" stroke-width="0.6"/>
<text x="487.90" y="297.00" font-size="5.4" fill="#333" text-anchor="end" font-weight="normal" stroke="#333" stroke-width="0.14" >R</text>
<line x1="489.3" y1="334.6" x2="491.5" y2="334.6" stroke="#555" stroke-width="0.6"/>
<text x="487.90" y="336.50" font-size="5.4" fill="#333" text-anchor="end" font-weight="normal" stroke="#333" stroke-width="0.14" >SSB</text>
<line x1="489.3" y1="374.1" x2="491.5" y2="374.1" stroke="#555" stroke-width="0.6"/>
<text x="487.90" y="376.00" font-size="5.4" fill="#333" text-anchor="end" font-weight="normal" stroke="#333" stroke-width="0.14" >F</text>
<line x1="489.3" y1="413.7" x2="491.5" y2="413.7" stroke="#555" stroke-width="0.6"/>
<text x="487.90" y="415.60" font-size="5.4" fill="#333" text-anchor="end" font-weight="normal" stroke="#333" stroke-width="0.14" >F/R</text>
<text x="587.50" y="453.60" font-size="9.0" fill="#000" text-anchor="middle" font-weight="normal" stroke="#000" stroke-width="0.12" >Regimes according to SSB</text>
<text x="467.7" y="334.6" font-size="9.0" fill="#000" stroke="#000" stroke-width="0.12" text-anchor="middle" transform="rotate(-90 467.7 334.6)">Stock variables</text>
<text x="495.20" y="246.00" font-size="10" fill="#000" text-anchor="start" font-weight="normal" >f</text>
</svg></body></html>
